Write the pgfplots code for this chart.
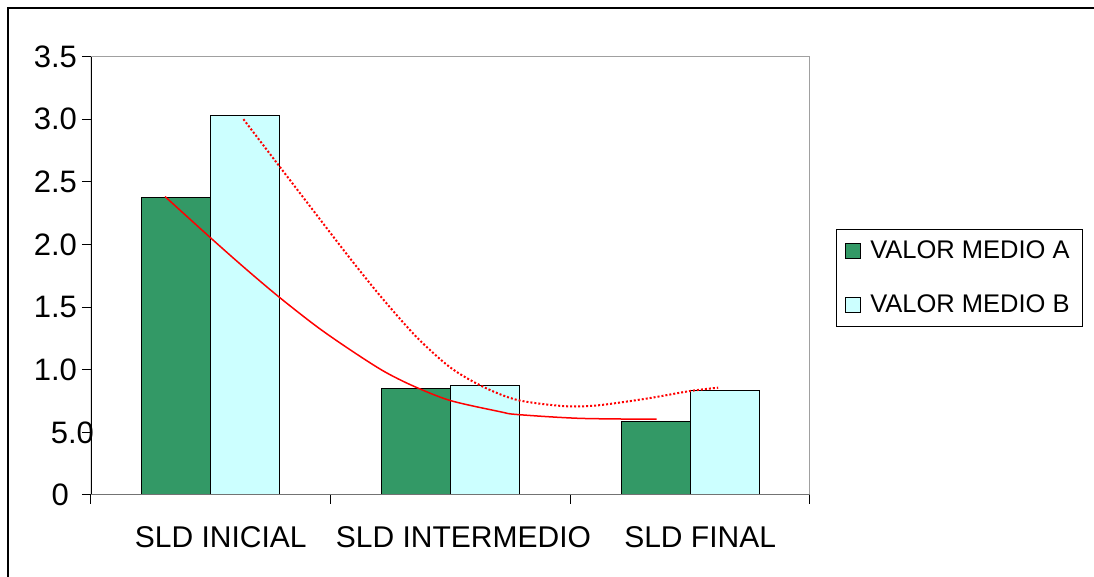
\documentclass[border=0pt]{standalone}
\usepackage{pgfplots}
\pgfplotsset{compat=1.18}
\usepackage{fontspec}
\setmainfont{Liberation Sans}

\definecolor{barA}{HTML}{339966}
\definecolor{barB}{HTML}{CCFFFF}
\definecolor{boxgray}{HTML}{A0A0A0}

% mean values per stage (0 = inicial, 1 = intermedio, 2 = final)
\pgfplotstableread{
x   y
0   2.375
1   0.852
2   0.585
}\valorA
\pgfplotstableread{
x   y
0   3.03
1   0.871
2   0.833
}\valorB
% polynomial trend of each series, sampled along the curve
\pgfplotstableread{
x      y
-0.191 2.383
0.001  2.050
0.140  1.815
0.282  1.585
0.442  1.345
0.581  1.160
0.720  0.990
0.845  0.870
0.998  0.755
1.207  0.665
1.276  0.643
1.540  0.612
1.860  0.605
}\trendA
\pgfplotstableread{
x      y
0.136  3.001
0.286  2.625
0.420  2.290
0.532  2.010
0.622  1.790
0.720  1.560
0.859  1.260
0.998  1.020
1.130  0.870
1.276  0.760
1.471  0.710
1.610  0.715
1.819  0.770
1.999  0.830
2.117  0.857
}\trendB

\begin{document}
\begin{tikzpicture}[x=0.5pt,y=0.5pt]
\useasboundingbox (0,0) rectangle (1094,577);
\draw[line width=0.9pt] (8,-10) -- (8,569) -- (1110,569);
\coordinate (plotorigin) at (91,82);
\begin{axis}[
  at={(plotorigin)}, anchor=south west,
  scale only axis, width=359.5pt, height=219.15pt,
  xmin=-0.5, xmax=2.5, ymin=0, ymax=3.5,
  axis line style={draw=none},
  tick align=outside, tick pos=left,
  major tick length=4.5pt,
  tick style={black, line width=0.5pt},
  xtick={-0.5,0.5,1.5,2.5}, xticklabels={},
  extra x ticks={0,1,2},
  extra x tick labels={SLD INICIAL, {\kern3pt SLD INTERMEDIO}, SLD FINAL},
  extra x tick style={major tick length=0pt,
    xticklabel style={font=\fontsize{15}{18}\selectfont, anchor=base, yshift=-26.35pt, xshift=5pt}},
  ytick={0,0.5,1,1.5,2,2.5,3,3.5},
  yticklabels={{0\kern4pt}, {5.0\kern-8.5pt}, 1.0, 1.5, 2.0, 2.5, 3.0, 3.5},
  yticklabel style={font=\fontsize{15.5}{18}\selectfont, xshift=1pt},
  /pgf/number format/assume math mode=true,
  legend style={at={(rel axis cs:1.036,0.606)}, anchor=north west,
    draw=black, line width=0.5pt, font=\fontsize{12.75}{15}\selectfont,
    inner xsep=4.5pt, inner ysep=3.5pt, row sep=12.5pt},
  legend cell align=left,
  legend image code/.code={\draw[#1, line width=0.4pt] (1pt,-3.75pt) rectangle (8.5pt,3.75pt);
    \path (11pt,0pt);},
]
\draw[boxgray, line width=0.6pt] (rel axis cs:0,1) -- (rel axis cs:1,1) -- (rel axis cs:1,0);
\draw[black, line width=0.6pt] (rel axis cs:0,0) -- (rel axis cs:0,1);

\addplot[ybar, bar width=34.5pt, bar shift=-17.25pt, fill=barA, draw=black, line width=0.5pt]
  table[x=x, y=y] {\valorA};
\addlegendentry{VALOR MEDIO A}
\addplot[ybar, bar width=34.5pt, bar shift=17.25pt, fill=barB, draw=black, line width=0.5pt]
  table[x=x, y=y] {\valorB};
\addlegendentry{VALOR MEDIO B}

\addplot[red, line width=0.75pt, smooth, no marks, forget plot] table[x=x, y=y] {\trendA};
\addplot[red, line width=1pt, dash pattern=on 1pt off 1pt, smooth, no marks, forget plot] table[x=x, y=y] {\trendB};

\draw[black!55, line width=0.8pt] (rel axis cs:0,0) -- (rel axis cs:1,0);
\end{axis}
\end{tikzpicture}
\end{document}
